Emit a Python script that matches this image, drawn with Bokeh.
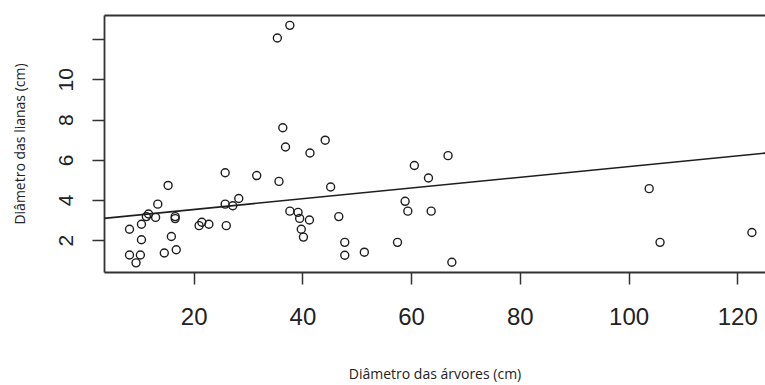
from bokeh.plotting import figure
from bokeh.models import Range1d, FixedTicker, Slope, LinearAxis
from bokeh.embed import file_html
from bokeh.resources import INLINE

# Tree diameter (cm) and liana diameter (cm)
arvores = [8.1, 10.3, 11.2, 11.6, 12.9, 13.3, 15.2, 16.5, 16.5, 10.3, 15.8, 8.1, 10.1, 9.3,
           14.5, 16.7, 20.9, 21.4, 22.7, 25.7, 25.7, 27.1, 28.2, 25.9, 31.5, 35.6, 35.3, 37.6,
           36.3, 36.8, 41.3, 44.1, 45.1, 37.6, 39.1, 39.4, 41.2, 39.7, 40.1, 46.6, 47.7, 47.7,
           51.3, 57.4, 60.5, 63.1, 66.7, 58.8, 59.3, 63.6, 67.4, 103.7, 105.7, 122.6]
lianas = [2.57, 2.82, 3.20, 3.33, 3.16, 3.82, 4.75, 3.20, 3.10, 2.05, 2.21, 1.29, 1.29, 0.90,
          1.39, 1.55, 2.75, 2.92, 2.82, 5.38, 3.82, 3.74, 4.10, 2.75, 5.24, 4.95, 12.08, 12.71,
          7.62, 6.66, 6.36, 7.00, 4.67, 3.47, 3.41, 3.11, 3.03, 2.57, 2.18, 3.20, 1.92, 1.28,
          1.43, 1.92, 5.74, 5.12, 6.23, 3.96, 3.47, 3.47, 0.93, 4.59, 1.92, 2.41]

# fitted line
intercepto = 3.02
inclinacao = 0.0267

x_ticks = [20, 40, 60, 80, 100, 120]
y_ticks = [2, 4, 6, 8, 10, 12]

ink = "#1e1e1e"
frame = "#333333"

p = figure(width=765, height=385, output_backend="svg", toolbar_location=None,
           x_range=Range1d(3.5, 125.1), y_range=Range1d(0.42, 13.2),
           min_border_left=104, min_border_right=0, min_border_top=15, min_border_bottom=110)
p.background_fill_color = "white"
p.border_fill_color = "white"
p.grid.visible = False
p.outline_line_color = None

p.scatter(arvores, lianas, marker="circle", size=8, fill_color=None,
          line_color=ink, line_width=1.4)
p.add_layout(Slope(gradient=inclinacao, y_intercept=intercepto,
                   line_color=ink, line_width=1.6))

ax = p.xaxis[0]
ax.ticker = FixedTicker(ticks=x_ticks)
ax.axis_label = "Diâmetro das árvores (cm)"
ax.axis_label_text_font = "Open Sans"
ax.axis_label_text_font_size = "14px"
ax.axis_label_text_font_style = "normal"
ax.axis_label_text_color = "#222222"
ax.axis_label_standoff = 36
ax.major_label_text_font = "Liberation Sans"
ax.major_label_text_font_size = "24px"
ax.major_label_text_color = "#222222"
ax.major_label_standoff = 23
ax.major_tick_out = 12
ax.major_tick_in = 0
ax.minor_tick_line_color = None
ax.major_tick_line_color = frame
ax.major_tick_line_width = 1.5
ax.axis_line_color = frame
ax.axis_line_width = 1.8

ay = p.yaxis[0]
ay.ticker = FixedTicker(ticks=y_ticks)
ay.major_label_overrides = {12: ""}
ay.axis_label = "Diâmetro das lianas (cm)"
ay.axis_label_text_font = "Open Sans"
ay.axis_label_text_font_size = "14px"
ay.axis_label_text_font_style = "normal"
ay.axis_label_text_color = "#222222"
ay.axis_label_standoff = 28
ay.major_label_orientation = "vertical"
ay.major_label_text_font = "Liberation Sans"
ay.major_label_text_font_size = "21px"
ay.major_label_text_color = "#222222"
ay.major_label_standoff = 19
ay.major_tick_out = 12
ay.major_tick_in = 0
ay.minor_tick_line_color = None
ay.major_tick_line_color = frame
ay.major_tick_line_width = 1.5
ay.axis_line_color = frame
ay.axis_line_width = 1.8

top = LinearAxis(ticker=FixedTicker(ticks=[]), major_tick_line_color=None,
                 minor_tick_line_color=None, major_label_text_font_size="0px",
                 axis_line_color=frame, axis_line_width=1.8)
p.add_layout(top, "above")

open("out.html", "w").write(file_html(p, INLINE))
